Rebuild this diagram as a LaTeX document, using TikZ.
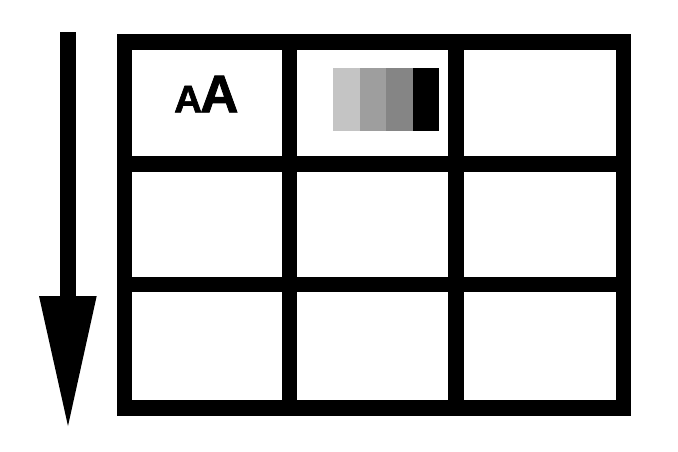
\documentclass[tikz,border=0pt]{standalone}
\usepackage{fontspec}
\setmainfont{Liberation Sans}
\newfontfamily\heavyfont[FakeBold=1.6]{Liberation Sans Bold}
\begin{document}
\begin{tikzpicture}[x=1pt,y=-1pt,
  cell/.style={fill=white},
  swatch/.style={draw=none},
  letter/.style={anchor=base west, inner sep=0pt}]
\useasboundingbox[fill=white] (0,0) rectangle (678,452);
% arrow
\fill[black] (60,32) rectangle (75.7,297);
\fill[black] (39,296) -- (96.7,296) -- (68,426) -- cycle;
% grid frame
\fill[black] (116.7,34.5) rectangle (631.3,415.7);
\foreach \xa/\xb in {132.3/281.7, 297.3/448.3, 464/615.7}{
  \foreach \ya/\yb in {50/155.7, 171.7/276.7, 292.3/400}{
    \fill[cell] (\xa,\ya) rectangle (\xb,\yb);
  }
}
% text AA
\node[letter, font=\heavyfont\fontsize{38.5}{40}\selectfont] (a1) at (174,112.3) {A};
\node[letter, font=\heavyfont\fontsize{53}{55}\selectfont] (a2) at (200,112.3) {A};
% swatches
\fill[swatch, fill={rgb,255:red,196;green,196;blue,196}] (333.3,67.7) rectangle (359.7,131);
\fill[swatch, fill={rgb,255:red,158;green,158;blue,158}] (359.7,67.7) rectangle (386,131);
\fill[swatch, fill={rgb,255:red,133;green,133;blue,133}] (386,67.7) rectangle (412.5,131);
\fill[swatch, fill=black] (412.5,67.7) rectangle (439,131);
\end{tikzpicture}
\end{document}
